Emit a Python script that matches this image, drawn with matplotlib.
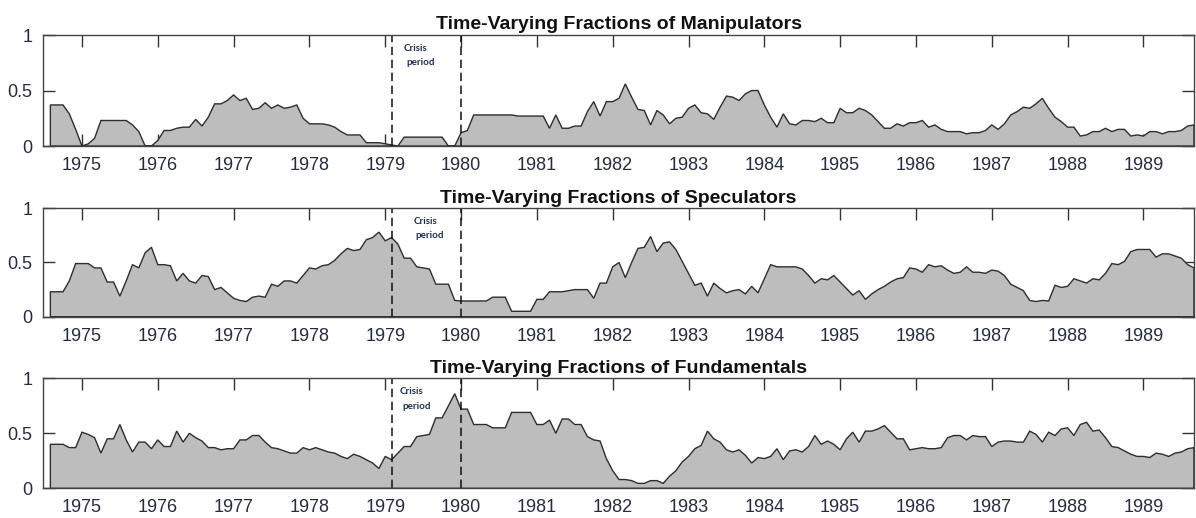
import numpy as np
import matplotlib
matplotlib.use("Agg")
import matplotlib.pyplot as plt

# ---------------- data (monthly, Aug 1974 - Sep 1989) ----------------
start_year = 1974
start_month = 8

manipulators = [
    0.37, 0.37, 0.37, 0.29, 0.15, 0.00, 0.02, 0.07, 0.23, 0.23,
    0.23, 0.23, 0.23, 0.19, 0.13, 0.00, 0.00, 0.05, 0.14, 0.14,
    0.16, 0.17, 0.17, 0.24, 0.18, 0.26, 0.38, 0.38, 0.41, 0.46,
    0.41, 0.43, 0.33, 0.34, 0.39, 0.34, 0.37, 0.34, 0.35, 0.37,
    0.25, 0.20, 0.20, 0.20, 0.19, 0.17, 0.13, 0.10, 0.10, 0.10,
    0.03, 0.03, 0.03, 0.02, 0.01, 0.00, 0.08, 0.08, 0.08, 0.08,
    0.08, 0.08, 0.08, 0.00, 0.00, 0.12, 0.14, 0.28, 0.28, 0.28,
    0.28, 0.28, 0.28, 0.28, 0.27, 0.27, 0.27, 0.27, 0.27, 0.16,
    0.28, 0.16, 0.16, 0.18, 0.18, 0.31, 0.40, 0.27, 0.40, 0.40,
    0.43, 0.56, 0.44, 0.33, 0.32, 0.19, 0.32, 0.28, 0.20, 0.25,
    0.26, 0.34, 0.37, 0.30, 0.29, 0.24, 0.35, 0.45, 0.44, 0.41,
    0.47, 0.50, 0.50, 0.37, 0.26, 0.17, 0.29, 0.20, 0.19, 0.23,
    0.23, 0.22, 0.25, 0.21, 0.21, 0.34, 0.30, 0.30, 0.34, 0.32,
    0.28, 0.22, 0.16, 0.16, 0.20, 0.18, 0.21, 0.21, 0.23, 0.17,
    0.19, 0.15, 0.13, 0.13, 0.13, 0.11, 0.12, 0.12, 0.14, 0.19,
    0.15, 0.20, 0.28, 0.31, 0.35, 0.34, 0.38, 0.43, 0.34, 0.26,
    0.22, 0.17, 0.17, 0.09, 0.10, 0.13, 0.13, 0.16, 0.13, 0.15,
    0.15, 0.09, 0.10, 0.09, 0.13, 0.13, 0.11, 0.13, 0.13, 0.14,
    0.18, 0.19,
]

speculators = [
    0.23, 0.23, 0.23, 0.33, 0.49, 0.49, 0.49, 0.45, 0.45, 0.32,
    0.32, 0.19, 0.33, 0.48, 0.45, 0.59, 0.64, 0.48, 0.48, 0.47,
    0.33, 0.40, 0.33, 0.31, 0.38, 0.37, 0.25, 0.27, 0.22, 0.17,
    0.15, 0.14, 0.18, 0.19, 0.18, 0.30, 0.28, 0.33, 0.33, 0.31,
    0.38, 0.45, 0.44, 0.47, 0.48, 0.52, 0.58, 0.63, 0.61, 0.62,
    0.71, 0.73, 0.78, 0.70, 0.73, 0.67, 0.54, 0.54, 0.46, 0.45,
    0.44, 0.30, 0.30, 0.30, 0.15, 0.145, 0.145, 0.145, 0.145, 0.145,
    0.18, 0.18, 0.18, 0.05, 0.05, 0.05, 0.05, 0.16, 0.16, 0.23,
    0.23, 0.23, 0.24, 0.25, 0.25, 0.25, 0.17, 0.31, 0.31, 0.46,
    0.50, 0.36, 0.50, 0.63, 0.64, 0.74, 0.60, 0.68, 0.69, 0.62,
    0.51, 0.40, 0.29, 0.31, 0.19, 0.31, 0.26, 0.22, 0.24, 0.25,
    0.21, 0.28, 0.22, 0.35, 0.48, 0.46, 0.46, 0.46, 0.46, 0.44,
    0.38, 0.31, 0.35, 0.34, 0.38, 0.32, 0.26, 0.20, 0.24, 0.16,
    0.21, 0.25, 0.28, 0.32, 0.35, 0.36, 0.45, 0.44, 0.41, 0.48,
    0.46, 0.47, 0.43, 0.40, 0.41, 0.46, 0.41, 0.41, 0.40, 0.43,
    0.42, 0.38, 0.30, 0.27, 0.24, 0.15, 0.14, 0.15, 0.145, 0.29,
    0.27, 0.28, 0.35, 0.33, 0.31, 0.35, 0.34, 0.40, 0.49, 0.48,
    0.51, 0.60, 0.62, 0.62, 0.62, 0.55, 0.58, 0.58, 0.56, 0.54,
    0.48, 0.45,
]

fundamentals = [
    0.40, 0.40, 0.40, 0.37, 0.37, 0.51, 0.49, 0.46, 0.32, 0.45,
    0.45, 0.58, 0.44, 0.33, 0.42, 0.42, 0.36, 0.44, 0.38, 0.38,
    0.52, 0.42, 0.50, 0.46, 0.43, 0.37, 0.37, 0.35, 0.36, 0.36,
    0.44, 0.44, 0.48, 0.48, 0.42, 0.37, 0.36, 0.34, 0.32, 0.32,
    0.37, 0.35, 0.37, 0.35, 0.33, 0.32, 0.29, 0.27, 0.31, 0.29,
    0.26, 0.23, 0.18, 0.29, 0.26, 0.32, 0.38, 0.38, 0.47, 0.48,
    0.49, 0.64, 0.64, 0.75, 0.86, 0.72, 0.72, 0.58, 0.58, 0.58,
    0.55, 0.55, 0.55, 0.69, 0.69, 0.69, 0.69, 0.58, 0.58, 0.62,
    0.50, 0.63, 0.63, 0.58, 0.58, 0.47, 0.44, 0.43, 0.27, 0.16,
    0.08, 0.08, 0.07, 0.045, 0.045, 0.07, 0.07, 0.045, 0.11, 0.16,
    0.24, 0.29, 0.36, 0.39, 0.52, 0.45, 0.42, 0.35, 0.33, 0.35,
    0.30, 0.23, 0.28, 0.27, 0.29, 0.36, 0.26, 0.34, 0.35, 0.33,
    0.38, 0.48, 0.40, 0.43, 0.40, 0.35, 0.45, 0.51, 0.42, 0.52,
    0.52, 0.54, 0.57, 0.51, 0.45, 0.45, 0.35, 0.36, 0.37, 0.36,
    0.36, 0.37, 0.46, 0.48, 0.48, 0.44, 0.48, 0.47, 0.47, 0.38,
    0.42, 0.43, 0.43, 0.42, 0.42, 0.52, 0.49, 0.42, 0.51, 0.48,
    0.54, 0.55, 0.48, 0.58, 0.60, 0.52, 0.53, 0.46, 0.38, 0.37,
    0.34, 0.31, 0.29, 0.29, 0.28, 0.32, 0.31, 0.29, 0.32, 0.33,
    0.36, 0.37,
]

titles = [
    "Time-Varying Fractions of Manipulators",
    "Time-Varying Fractions of Speculators",
    "Time-Varying Fractions of Fundamentals",
]
year_ticks = list(range(1975, 1990))
y_ticks = [0, 0.5, 1]
y_tick_labels = ["0", "0.5", "1"]
crisis_start = 1979 + 1 / 12
crisis_end = 1980.0

# ---------------- figure ----------------
plt.rcParams['font.family'] = ['Liberation Sans', 'DejaVu Sans']

fig = plt.figure(figsize=(11.96, 5.18), dpi=100)
label_color = '#262c40'
axes_rects = [
    [0.0362, 0.7181, 0.9621, 0.2143],
    [0.0362, 0.3886, 0.9621, 0.2093],
    [0.0362, 0.0573, 0.9621, 0.2124],
]
crisis_text_pos = [
    (1979.237, 0.88, 1979.273, 0.754),
    (1979.38, 0.876, 1979.40, 0.747),
    (1979.19, 0.878, 1979.22, 0.748),
]

series_list = [manipulators, speculators, fundamentals]
for k, (rect, series, title) in enumerate(zip(axes_rects, series_list, titles)):
    ax = fig.add_axes(rect)
    vals = np.asarray(series, dtype=float)
    n = len(vals)
    dates = start_year + (start_month - 1 + np.arange(n)) / 12.0

    poly_x = np.concatenate([[dates[0]], dates, [dates[-1]]])
    poly_y = np.concatenate([[0.0], vals, [0.0]])
    ax.fill(poly_x, poly_y, facecolor='#bdbdbd', edgecolor='#2e2e2e',
            linewidth=1.0, zorder=1)

    ax.axvline(crisis_start, color='#111111', linestyle=(0, (5.5, 3)),
               linewidth=1.1, zorder=3)
    ax.axvline(crisis_end, color='#111111', linestyle=(0, (5.5, 3)),
               linewidth=1.1, zorder=3)

    cx1, cy1, cx2, cy2 = crisis_text_pos[k]
    ax.text(cx1, cy1, "Crisis", fontsize=7, fontweight='bold',
            family=['Lato', 'DejaVu Sans'], color='#1f2d55',
            ha='left', va='center', zorder=4)
    ax.text(cx2, cy2, "period", fontsize=7, fontweight='bold',
            family=['Lato', 'DejaVu Sans'], color='#1f2d55',
            ha='left', va='center', zorder=4)

    ax.set_xlim(1974.49, dates[-1])
    ax.set_ylim(0, 1)
    ax.set_xticks(year_ticks)
    ax.set_xticklabels([str(y) for y in year_ticks])
    ax.set_yticks(y_ticks)
    ax.set_yticklabels(y_tick_labels)
    ax.set_axisbelow(True)
    ax.tick_params(axis='x', which='both', direction='in', length=8.5,
                   width=1.0, color='#333333', top=True, bottom=True,
                   labelbottom=True, labeltop=False, labelsize=13,
                   labelcolor=label_color, pad=8)
    ax.tick_params(axis='y', which='both', direction='in', length=8.5,
                   width=1.0, color='#333333', left=True, right=True,
                   labelleft=True, labelright=False, labelsize=13,
                   labelcolor=label_color, pad=8)
    for sp in ax.spines.values():
        sp.set_color('#444444')
        sp.set_linewidth(1.0)
        sp.set_zorder(5)

    ax.set_title(title, fontsize=14, fontweight='bold', color='#111111',
                 pad=4)

fig.savefig('out.png', dpi=100)
